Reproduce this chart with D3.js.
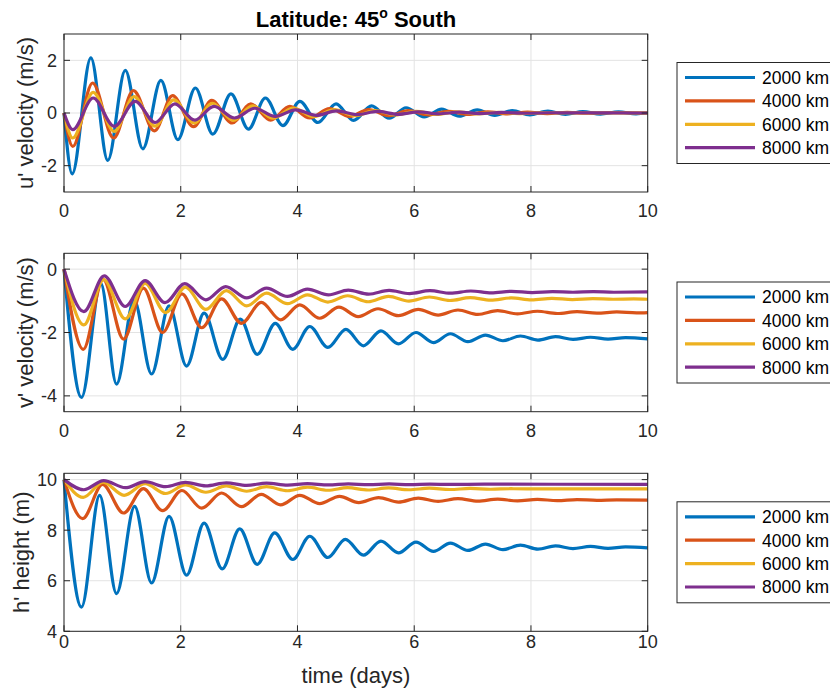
<!DOCTYPE html>
<html>
<head>
<meta charset="utf-8">
<script src="https://cdn.jsdelivr.net/npm/d3@7"></script>
<style>
  body { margin: 0; background: #fff; }
  svg { font-family: "Liberation Sans", Arial, Helvetica, sans-serif; }
</style>
</head>
<body>
<div id="chart"></div>
<script>
// ------------------------------------------------------------------ //
// Data: extrema, [time (days), value]            //
// ------------------------------------------------------------------ //
var names  = ["2000 km", "4000 km", "6000 km", "8000 km"];
var colors = ["#0072BD", "#D95319", "#EDB120", "#7E2F8E"];
var xTicks = [0, 2, 4, 6, 8, 10];
var uTicks = [-2, 0, 2];
var vTicks = [-4, -2, 0];
var hTicks = [4, 6, 8, 10];

// u' velocity (m/s)
var u2000 = [[0,0],[0.14,-2.31],[0.46,2.09],[0.75,-1.80],[1.05,1.62],[1.35,-1.36],[1.66,1.24],[1.95,-1.01],
  [2.25,0.95],[2.55,-0.80],[2.86,0.73],[3.16,-0.61],[3.45,0.57],[3.75,-0.48],[4.04,0.44],[4.35,-0.36],
  [4.66,0.35],[4.96,-0.28],[5.27,0.27],[5.57,-0.2],[5.86,0.2],[6.17,-0.15],[6.47,0.15],[6.77,-0.12],
  [7.08,0.12],[7.38,-0.09],[7.68,0.09],[7.98,-0.07],[8.29,0.07],[8.59,-0.05],[8.89,0.05],[9.19,-0.04],
  [9.5,0.04],[9.8,-0.03],[10,0]];
var u4000 = [[0,0],[0.15,-1.27],[0.49,1.14],[0.85,-0.95],[1.19,0.85],[1.55,-0.68],[1.86,0.66],[2.22,-0.52],
  [2.53,0.48],[2.88,-0.38],[3.2,0.35],[3.54,-0.27],[3.87,0.25],[4.21,-0.19],[4.55,0.17],[4.89,-0.13],
  [5.22,0.13],[5.56,-0.1],[5.9,0.09],[6.24,-0.07],[6.58,0.06],[6.92,-0.05],[7.26,0.04],[7.6,-0.03],
  [7.94,0.03],[8.28,-0.02],[8.62,0.02],[8.96,-0.01],[9.3,0.01],[10,0]];
var u6000 = [[0,0],[0.15,-0.95],[0.5,0.78],[0.86,-0.7],[1.2,0.62],[1.56,-0.5],[1.88,0.5],[2.23,-0.38],
  [2.54,0.37],[2.9,-0.28],[3.23,0.27],[3.58,-0.2],[3.93,0.19],[4.28,-0.14],[4.63,0.13],[4.98,-0.1],
  [5.33,0.09],[5.68,-0.07],[6.03,0.06],[6.38,-0.05],[6.73,0.04],[7.08,-0.03],[7.43,0.02],[7.8,-0.02],
  [8.2,0.01],[10,0]];
var u8000 = [[0,0],[0.15,-0.63],[0.5,0.57],[0.86,-0.51],[1.22,0.44],[1.56,-0.36],[1.9,0.35],[2.24,-0.27],
  [2.57,0.25],[2.92,-0.19],[3.27,0.18],[3.62,-0.13],[3.97,0.12],[4.32,-0.09],[4.67,0.08],[5.02,-0.06],
  [5.37,0.06],[5.72,-0.05],[6.07,0.04],[6.42,-0.03],[6.77,0.03],[7.12,-0.02],[7.5,0.02],[7.9,-0.01],
  [8.3,0.01],[10,0]];

// v' velocity (m/s)
var v2000 = [[0,0],[0.30,-4.05],[0.63,-0.45],[0.90,-3.63],[1.2,-0.97],[1.50,-3.31],[1.80,-1.16],[2.10,-3.06],
  [2.40,-1.39],[2.72,-2.85],[3.02,-1.58],[3.31,-2.69],[3.62,-1.71],[3.92,-2.53],[4.21,-1.81],[4.52,-2.47],
  [4.83,-1.90],[5.13,-2.42],[5.43,-1.95],[5.73,-2.36],[6.03,-2.0],[6.33,-2.32],[6.62,-2.04],[6.92,-2.29],
  [7.22,-2.08],[7.52,-2.26],[7.82,-2.11],[8.12,-2.24],[8.42,-2.13],[8.72,-2.22],[9.02,-2.15],[9.32,-2.21],
  [9.62,-2.16],[10,-2.2]];
var v4000 = [[0,0],[0.33,-2.53],[0.67,-0.32],[1.02,-2.21],[1.36,-0.6],[1.69,-2.0],[2.02,-0.78],[2.36,-1.85],
  [2.70,-0.94],[3.04,-1.71],[3.38,-1.05],[3.71,-1.6],[4.04,-1.13],[4.38,-1.55],[4.71,-1.2],[5.04,-1.5],
  [5.38,-1.25],[5.73,-1.47],[6.07,-1.27],[6.41,-1.45],[6.75,-1.29],[7.09,-1.43],[7.43,-1.31],[7.77,-1.41],
  [8.11,-1.33],[8.45,-1.4],[8.79,-1.34],[9.13,-1.39],[9.47,-1.35],[9.81,-1.38],[10,-1.37]];
var v6000 = [[0,0],[0.34,-1.76],[0.68,-0.33],[1.05,-1.57],[1.39,-0.45],[1.74,-1.37],[2.08,-0.57],[2.43,-1.27],
  [2.78,-0.68],[3.13,-1.16],[3.47,-0.76],[3.83,-1.09],[4.17,-0.81],[4.52,-1.04],[4.86,-0.84],[5.21,-1.03],
  [5.56,-0.86],[5.91,-1.01],[6.26,-0.88],[6.61,-0.99],[6.96,-0.9],[7.31,-0.98],[7.66,-0.91],[8.01,-0.97],
  [8.36,-0.92],[8.71,-0.96],[9.06,-0.93],[9.41,-0.95],[9.76,-0.94],[10,-0.95]];
var v8000 = [[0,0],[0.34,-1.34],[0.69,-0.21],[1.05,-1.18],[1.39,-0.36],[1.73,-1.06],[2.07,-0.46],[2.43,-0.97],
  [2.77,-0.55],[3.13,-0.91],[3.47,-0.6],[3.83,-0.86],[4.17,-0.63],[4.53,-0.81],[4.87,-0.66],[5.22,-0.79],
  [5.57,-0.67],[5.92,-0.77],[6.27,-0.68],[6.62,-0.76],[6.97,-0.69],[7.32,-0.75],[7.67,-0.7],[8.02,-0.74],
  [8.37,-0.71],[8.72,-0.73],[9.07,-0.71],[9.42,-0.73],[10,-0.72]];

// h' height (m)
var h2000 = [[0,10],[0.30,4.96],[0.61,9.38],[0.90,5.49],[1.21,8.94],[1.50,5.91],[1.80,8.55],[2.10,6.22],
  [2.40,8.28],[2.71,6.47],[3.01,8.05],[3.31,6.65],[3.61,7.89],[3.92,6.84],[4.21,7.76],[4.52,6.92],
  [4.82,7.64],[5.13,7.01],[5.43,7.57],[5.73,7.10],[6.03,7.53],[6.33,7.16],[6.62,7.49],[6.92,7.2],
  [7.22,7.45],[7.52,7.23],[7.82,7.41],[8.12,7.25],[8.42,7.38],[8.72,7.27],[9.02,7.36],[9.32,7.28],
  [9.62,7.34],[10,7.3]];
var h4000 = [[0,10],[0.32,8.46],[0.66,9.81],[1.02,8.68],[1.36,9.64],[1.69,8.77],[2.02,9.57],[2.36,8.87],
  [2.70,9.47],[3.04,8.93],[3.38,9.42],[3.71,9.0],[4.04,9.38],[4.38,9.05],[4.72,9.34],[5.05,9.09],
  [5.39,9.29],[5.73,9.11],[6.07,9.27],[6.41,9.14],[6.75,9.25],[7.09,9.15],[7.43,9.23],[7.77,9.16],
  [8.11,9.22],[8.45,9.17],[8.79,9.21],[9.13,9.18],[9.47,9.2],[10,9.19]];
var h6000 = [[0,10],[0.33,9.3],[0.67,9.9],[1.03,9.38],[1.39,9.84],[1.74,9.45],[2.08,9.79],[2.43,9.5],
  [2.78,9.75],[3.13,9.54],[3.47,9.72],[3.83,9.56],[4.17,9.7],[4.52,9.58],[4.86,9.68],[5.21,9.59],
  [5.56,9.67],[5.91,9.6],[6.26,9.66],[6.61,9.61],[6.96,9.65],[7.31,9.62],[7.66,9.64],[8.2,9.63],[10,9.63]];
var h8000 = [[0,10],[0.34,9.6],[0.68,9.96],[1.05,9.68],[1.39,9.92],[1.74,9.72],[2.08,9.89],[2.43,9.75],
  [2.78,9.87],[3.13,9.77],[3.47,9.86],[3.83,9.78],[4.17,9.84],[4.53,9.79],[4.87,9.83],[5.22,9.8],
  [5.57,9.83],[5.92,9.8],[6.27,9.82],[6.62,9.81],[7.2,9.82],[10,9.81]];

// ------------------------------------------------------------------ //
// Canvas                                                              //
// ------------------------------------------------------------------ //
var svg = d3.select("#chart")
  .append("svg")
    .attr("width", 830)
    .attr("height", 690);

var x = d3.scaleLinear().domain([0, 10]).range([64, 647.7]);

var panels = [
  {top: 34,    bottom: 192,   domain: [-3, 3],      ticks: uTicks, label: "u' velocity (m/s)", labelX: 33, xLabelGap: 25, series: [u2000, u4000, u6000, u8000]},
  {top: 253.3, bottom: 411.7, domain: [-4.5, 0.5],  ticks: vTicks, label: "v' velocity (m/s)", labelX: 33, xLabelGap: 25, series: [v2000, v4000, v6000, v8000]},
  {top: 473.3, bottom: 631.3, domain: [4, 10.25],   ticks: hTicks, label: "h' height (m)",     labelX: 29, xLabelGap: 17, series: [h2000, h4000, h6000, h8000]}
];

var axisColor = "#262626",
    gridColor = "#e3e3e3",
    tickLen = 6;

panels.forEach(function(p) {
  var y = d3.scaleLinear().domain(p.domain).range([p.bottom, p.top]);
  var g = svg.append("g");
  var x0 = x.range()[0], x1 = x.range()[1];

  // grid
  g.selectAll(".gx").data(xTicks).enter().append("line")
    .attr("x1", function(d) { return x(d); }).attr("x2", function(d) { return x(d); })
    .attr("y1", p.top).attr("y2", p.bottom)
    .attr("stroke", gridColor).attr("stroke-width", 1);
  g.selectAll(".gy").data(p.ticks).enter().append("line")
    .attr("x1", x0).attr("x2", x1)
    .attr("y1", function(d) { return y(d); }).attr("y2", function(d) { return y(d); })
    .attr("stroke", gridColor).attr("stroke-width", 1);

  // lines
  var line = d3.line()
    .x(function(d) { return x(d[0]); })
    .y(function(d) { return y(d[1]); })
    .curve(d3.curveMonotoneX);
  g.selectAll(".series").data(p.series).enter().append("path")
    .attr("d", line)
    .attr("fill", "none")
    .attr("stroke", function(d, i) { return colors[i]; })
    .attr("stroke-width", 3.2)
    .attr("stroke-linejoin", "round");

  // box
  g.append("rect")
    .attr("x", x0).attr("y", p.top)
    .attr("width", x1 - x0).attr("height", p.bottom - p.top)
    .attr("fill", "none").attr("stroke", axisColor).attr("stroke-width", 1);

  // inward ticks, all four sides
  xTicks.forEach(function(t) {
    g.append("line").attr("x1", x(t)).attr("x2", x(t)).attr("y1", p.bottom).attr("y2", p.bottom - tickLen).attr("stroke", axisColor);
    g.append("line").attr("x1", x(t)).attr("x2", x(t)).attr("y1", p.top).attr("y2", p.top + tickLen).attr("stroke", axisColor);
  });
  p.ticks.forEach(function(t) {
    g.append("line").attr("x1", x0).attr("x2", x0 + tickLen).attr("y1", y(t)).attr("y2", y(t)).attr("stroke", axisColor);
    g.append("line").attr("x1", x1).attr("x2", x1 - tickLen).attr("y1", y(t)).attr("y2", y(t)).attr("stroke", axisColor);
  });

  // tick labels
  g.selectAll(".xl").data(xTicks).enter().append("text")
    .attr("x", function(d) { return x(d); })
    .attr("y", p.bottom + p.xLabelGap)
    .attr("text-anchor", "middle")
    .attr("font-size", 18)
    .attr("fill", axisColor)
    .text(function(d) { return d; });
  g.selectAll(".yl").data(p.ticks).enter().append("text")
    .attr("x", 57)
    .attr("y", function(d) { return y(d); })
    .attr("dy", "0.36em")
    .attr("text-anchor", "end")
    .attr("font-size", 18)
    .attr("fill", axisColor)
    .text(function(d) { return d < 0 ? "-" + Math.abs(d) : d; });

  // y label
  var cy = (p.top + p.bottom) / 2;
  g.append("text")
    .attr("transform", "translate(" + p.labelX + "," + cy + ") rotate(-90)")
    .attr("text-anchor", "middle")
    .attr("font-size", 22)
    .attr("fill", axisColor)
    .text(p.label);

  // legend
  var rowH = 23.4,
      boxTop = cy - 50.5;
  g.append("rect")
    .attr("x", 677).attr("y", boxTop)
    .attr("width", 170).attr("height", 101)
    .attr("fill", "#fff").attr("stroke", axisColor).attr("stroke-width", 1);
  var rows = g.selectAll(".leg").data(names).enter().append("g")
    .attr("transform", function(d, i) { return "translate(0," + (boxTop + 15 + i * rowH) + ")"; });
  rows.append("line")
    .attr("x1", 685).attr("x2", 755)
    .attr("stroke", function(d, i) { return colors[i]; })
    .attr("stroke-width", 3.2);
  rows.append("text")
    .attr("x", 762)
    .attr("dy", "0.36em")
    .attr("font-size", 17.5)
    .attr("fill", "#000")
    .text(function(d) { return d; });
});

// title
var title = svg.append("text")
  .attr("x", 356)
  .attr("y", 27)
  .attr("text-anchor", "middle")
  .attr("font-size", 22)
  .attr("font-weight", "bold")
  .attr("fill", "#000");
title.append("tspan").text("Latitude: 45");
title.append("tspan").attr("font-size", 14).attr("dy", -9).text("o");
title.append("tspan").attr("dy", 9).text(" South");

// x label
svg.append("text")
  .attr("x", 356)
  .attr("y", 683)
  .attr("text-anchor", "middle")
  .attr("font-size", 22)
  .attr("fill", axisColor)
  .text("time (days)");
</script>
</body>
</html>
